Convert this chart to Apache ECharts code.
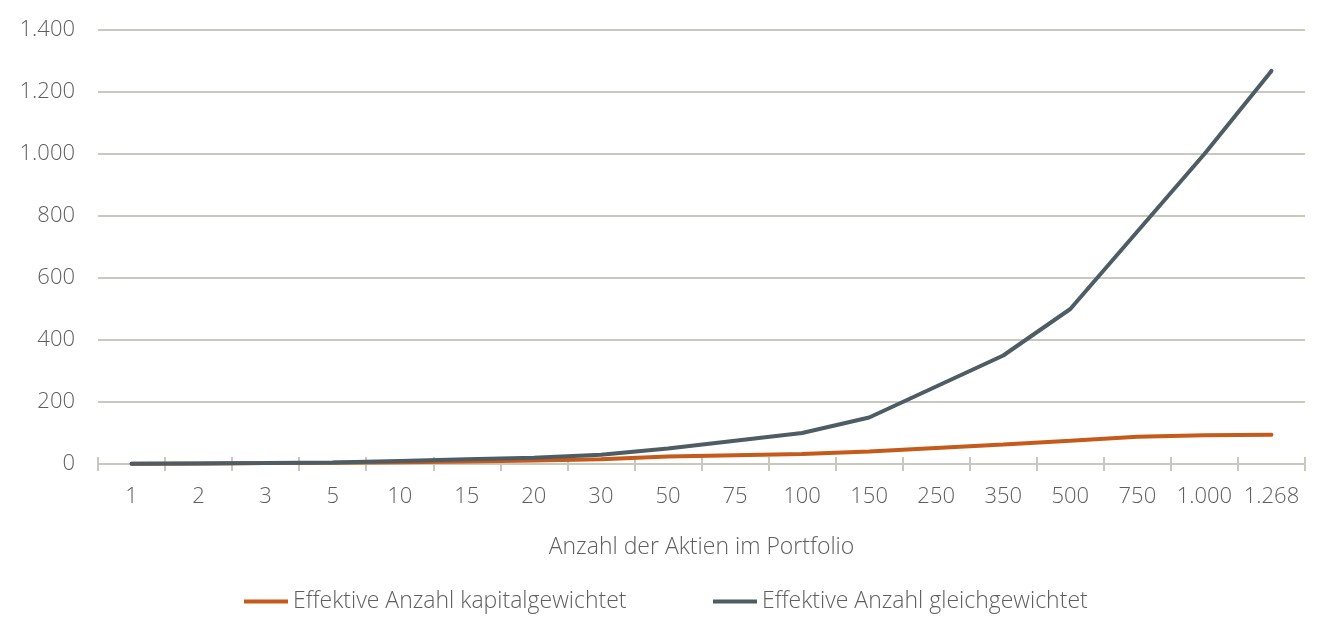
<!DOCTYPE html>
<html>
<head>
<meta charset="utf-8">
<script src="https://cdn.jsdelivr.net/npm/echarts@6/dist/echarts.min.js"></script>
<style>
  html, body { margin: 0; padding: 0; background: #fff; }
  #chart { width: 1327px; height: 619px; }
</style>
</head>
<body>
<div id="chart"></div>
<script>
const categories = ['1', '2', '3', '5', '10', '15', '20', '30', '50', '75', '100', '150', '250', '350', '500', '750', '1.000', '1.268']
const kapitalgewichtet = [1, 2, 3, 4, 6, 8, 11, 15, 24, 28, 32, 40, 52, 63, 75, 88, 93, 94]
const gleichgewichtet = [1, 2, 3, 5, 10, 15, 20, 30, 50, 75, 100, 150, 250, 350, 500, 750, 1000, 1268]
const yTicks = [0, 200, 400, 600, 800, 1000, 1200, 1400]
const seriesNames = ['Effektive Anzahl kapitalgewichtet', 'Effektive Anzahl gleichgewichtet']

const font = "'Open Sans', 'Noto Sans', sans-serif"
const textColor = '#5e5e5e'
const axisGray = '#c9c8bf'
const tickTxt = { fontFamily: font, fontSize: 22, fontWeight: 300, color: textColor }
const bigTxt = { fontFamily: font, fontSize: 23, fontWeight: 300, color: textColor }

const fmt = v => String(v).replace(/\B(?=(\d{3})+(?!\d))/g, '.')

const legendBase = {
  bottom: 1,
  icon: 'rect',
  itemWidth: 44,
  itemHeight: 4,
  textStyle: bigTxt,
}

const chart = echarts.init(document.getElementById('chart'))
chart.setOption({
  animation: false,
  textStyle: { fontFamily: font },
  grid: { left: 98, right: 22, top: 30, bottom: 155 },
  legend: [
    Object.assign({ data: [seriesNames[0]], left: 239 }, legendBase),
    Object.assign({ data: [seriesNames[1]], left: 708 }, legendBase),
  ],
  xAxis: [
    {
      type: 'category',
      data: categories,
      position: 'bottom',
      name: 'Anzahl der Aktien im Portfolio',
      nameLocation: 'middle',
      nameGap: 72,
      nameTextStyle: bigTxt,
      axisLine: { lineStyle: { color: axisGray, width: 2 } },
      axisTick: { show: false },
      axisLabel: Object.assign({ interval: 0, margin: 22 }, tickTxt),
    },
    {
      // ticks crossing the axis line
      type: 'category',
      data: categories,
      position: 'bottom',
      offset: -7,
      axisLine: { show: true, lineStyle: { color: 'rgba(0,0,0,0)' } },
      axisTick: { show: true, interval: 0, length: 14, lineStyle: { color: axisGray, width: 2 } },
      axisLabel: { show: false },
    },
  ],
  yAxis: {
    type: 'value',
    min: yTicks[0],
    max: yTicks[yTicks.length - 1],
    interval: yTicks[1] - yTicks[0],
    axisLine: { show: false },
    axisTick: { show: false },
    axisLabel: Object.assign({ margin: 23, formatter: fmt }, tickTxt),
    splitLine: { lineStyle: { color: axisGray, width: 2 } },
  },
  series: [
    {
      name: seriesNames[0],
      type: 'line',
      data: kapitalgewichtet,
      symbol: 'none',
      lineStyle: { color: '#c55a1a', width: 4, cap: 'round' },
      itemStyle: { color: '#c55a1a' },
      z: 2,
    },
    {
      name: seriesNames[1],
      type: 'line',
      data: gleichgewichtet,
      symbol: 'none',
      lineStyle: { color: '#4e5c64', width: 4, cap: 'round' },
      itemStyle: { color: '#4e5c64' },
      z: 3,
    },
  ],
})
</script>
</body>
</html>
